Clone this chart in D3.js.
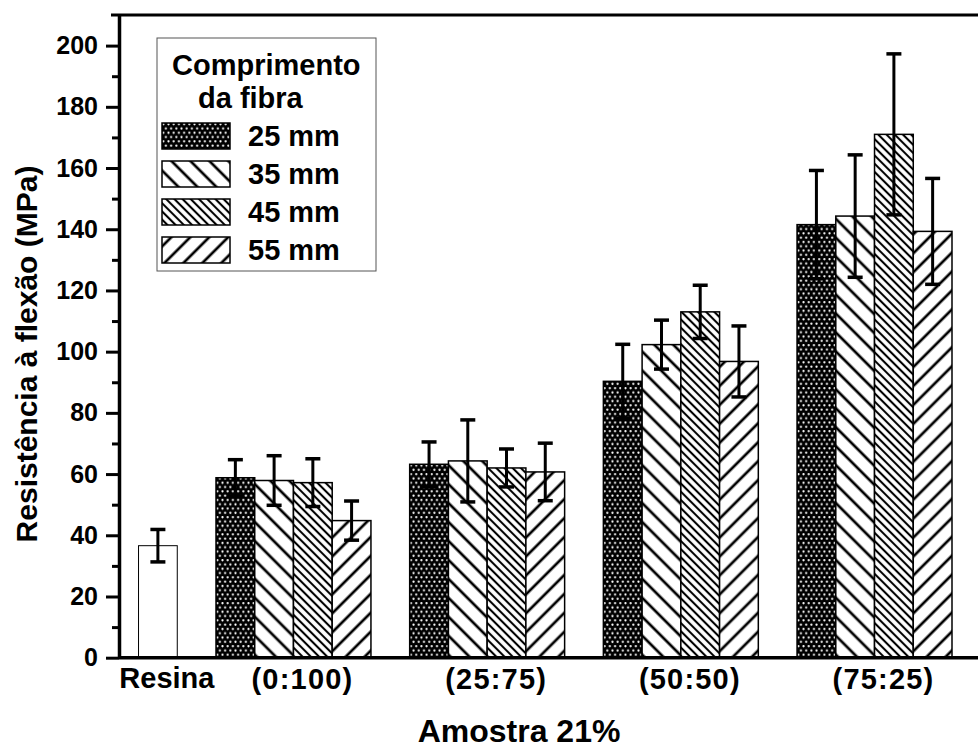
<html>
    <head>
        <title>Resistencia a flexao</title>
        <style>
            body { margin: 0; background: #fff; }
            svg { display: block; }
            .chart text {
                font-family: "Liberation Sans", Arial, sans-serif;
                font-weight: bold;
                fill: #000;
            }
            .chart .axis path, .chart .axis line {
                stroke: #000;
            }
        </style>
    </head>
    <body>
        <svg class="chart" width="978" height="754"></svg>
        <script src="https://cdnjs.cloudflare.com/ajax/libs/d3/7.8.5/d3.min.js"></script>
        <script>

            // values (MPa)
            var groups = ["(0:100)", "(25:75)", "(50:50)", "(75:25)"];
            var series = ["25 mm", "35 mm", "45 mm", "55 mm"];
            var resinaLabel = "Resina";
            var resinaValue = 36.6;
            var resinaErr = 5.3;
            var values25 = [58.8, 63.2, 90.3, 141.5];
            var values35 = [57.9, 64.3, 102.3, 144.3];
            var values45 = [57.2, 62.0, 113.0, 171.0];
            var values55 = [44.8, 60.7, 96.8, 139.3];
            var err25 = [5.9, 7.3, 12.1, 17.7];
            var err35 = [8.1, 13.4, 8.0, 20.0];
            var err45 = [7.8, 6.2, 8.7, 26.3];
            var err55 = [6.4, 9.4, 11.6, 17.3];
            var yTicks = [0, 20, 40, 60, 80, 100, 120, 140, 160, 180, 200];
            var yMinorTicks = [10, 30, 50, 70, 90, 110, 130, 150, 170, 190];

            var legendTitle = ["Comprimento", "da fibra"];
            var yTitle = "Resistência à flexão (MPa)";
            var xTitle = "Amostra 21%";

            var allValues = [values25, values35, values45, values55];
            var allErrs = [err25, err35, err45, err55];
            var patternIds = ["p25", "p35", "p45", "p55"];

            var width = 978, height = 754;
            var axisX = 119;

            var svg = d3.select('.chart');

            // patterns
            var defs = svg.append('defs');

            var dots = defs.append('pattern')
                .attr('id', 'p25')
                .attr('patternUnits', 'userSpaceOnUse')
                .attr('width', 5.2)
                .attr('height', 8.6);
            dots.append('rect').attr('width', 5.2).attr('height', 8.6).attr('fill', '#000');
            dots.append('circle').attr('cx', 1.3).attr('cy', 1.2).attr('r', 1.1).attr('fill', '#fff');
            dots.append('circle').attr('cx', 3.9).attr('cy', 5.5).attr('r', 1.1).attr('fill', '#fff');

            function hatch(id, spacing, angle, sw) {
                var p = defs.append('pattern')
                    .attr('id', id)
                    .attr('patternUnits', 'userSpaceOnUse')
                    .attr('width', spacing)
                    .attr('height', spacing)
                    .attr('patternTransform', 'rotate(' + angle + ')');
                p.append('rect').attr('width', spacing).attr('height', spacing).attr('fill', '#fff');
                p.append('line')
                    .attr('x1', spacing / 2).attr('y1', 0)
                    .attr('x2', spacing / 2).attr('y2', spacing)
                    .attr('stroke', '#000')
                    .attr('stroke-width', sw);
            }
            hatch('p35', 13.4, -45, 2.7);
            hatch('p45', 5.8, -45, 2.1);
            hatch('p55', 13.4, 45, 2.7);

            // scales
            var yScale = d3.scaleLinear()
                .domain([0, 210])
                .range([657.7, 15]);

            var xScale = d3.scaleBand()
                .domain(groups)
                .range([216, 952])
                .paddingInner(0.2)
                .paddingOuter(0);

            var xSub = d3.scaleBand()
                .domain(series)
                .range([0, xScale.bandwidth()]);

            var resinaX = xScale(groups[0]) - 0.4 * xScale.step();

            // top frame line
            svg.append('line')
                .attr('x1', 111).attr('x2', width)
                .attr('y1', 15).attr('y2', 15)
                .attr('stroke', '#000').attr('stroke-width', 3.2);

            // bars
            svg.append('rect')
                .attr('x', resinaX)
                .attr('y', yScale(resinaValue))
                .attr('width', xSub.bandwidth())
                .attr('height', yScale(0) - yScale(resinaValue))
                .attr('fill', '#fff')
                .attr('stroke', '#000')
                .attr('stroke-width', 1);

            var groupG = svg.selectAll('.group')
                .data(groups)
                .enter()
                .append('g')
                .attr('class', 'group')
                .attr('transform', function(d) { return 'translate(' + xScale(d) + ',0)'; });

            var bars = groupG.selectAll('.bar')
                .data(function(d, gi) {
                    return series.map(function(s, si) {
                        return { series: s, si: si, value: allValues[si][gi], err: allErrs[si][gi] };
                    });
                })
                .enter();

            bars.append('rect')
                .attr('x', function(d) { return xSub(d.series); })
                .attr('y', function(d) { return yScale(d.value); })
                .attr('width', xSub.bandwidth())
                .attr('height', function(d) { return yScale(0) - yScale(d.value); })
                .attr('fill', function(d) { return 'url(#' + patternIds[d.si] + ')'; })
                .attr('stroke', '#000')
                .attr('stroke-width', 1.5);

            // error bars
            var errData = [{ cx: resinaX + xSub.bandwidth() / 2, value: resinaValue, err: resinaErr }];
            groups.forEach(function(g, gi) {
                series.forEach(function(s, si) {
                    errData.push({
                        cx: xScale(g) + xSub(s) + xSub.bandwidth() / 2,
                        value: allValues[si][gi],
                        err: allErrs[si][gi]
                    });
                });
            });

            var errG = svg.selectAll('.err')
                .data(errData)
                .enter()
                .append('g')
                .attr('class', 'err')
                .attr('stroke', '#000');

            errG.append('line')
                .attr('x1', function(d) { return d.cx; })
                .attr('x2', function(d) { return d.cx; })
                .attr('y1', function(d) { return yScale(d.value + d.err); })
                .attr('y2', function(d) { return yScale(d.value - d.err); })
                .attr('stroke-width', 3);

            [1, -1].forEach(function(sign) {
                errG.append('line')
                    .attr('x1', function(d) { return d.cx - 7.5; })
                    .attr('x2', function(d) { return d.cx + 7.5; })
                    .attr('y1', function(d) { return yScale(d.value + sign * d.err); })
                    .attr('y2', function(d) { return yScale(d.value + sign * d.err); })
                    .attr('stroke-width', 3.5);
            });

            // bottom axis line
            svg.append('line')
                .attr('x1', axisX).attr('x2', width)
                .attr('y1', yScale(0)).attr('y2', yScale(0))
                .attr('stroke', '#000').attr('stroke-width', 3.4);

            // y axis
            var yAxis = d3.axisLeft(yScale)
                .tickValues(yTicks)
                .tickSize(13)
                .tickSizeOuter(0)
                .tickPadding(8);

            var yAxisG = svg.append('g')
                .attr('class', 'axis')
                .attr('transform', 'translate(' + axisX + ',0)')
                .call(yAxis);

            yAxisG.select('.domain').attr('stroke-width', 3.5);
            yAxisG.selectAll('.tick line').attr('stroke-width', 3);
            yAxisG.selectAll('.tick text')
                .style('font-size', '25px');

            var yMinor = d3.axisLeft(yScale)
                .tickValues(yMinorTicks)
                .tickSize(7)
                .tickFormat('');

            var yMinorG = svg.append('g')
                .attr('class', 'axis')
                .attr('transform', 'translate(' + axisX + ',0)')
                .call(yMinor);
            yMinorG.select('.domain').remove();
            yMinorG.selectAll('.tick line').attr('stroke-width', 3);

            // category labels
            svg.append('text')
                .attr('x', resinaX + xSub.bandwidth() / 2 + 9)
                .attr('y', 688)
                .attr('text-anchor', 'middle')
                .style('font-size', '29px')
                .text(resinaLabel);

            svg.selectAll('.catLabel')
                .data(groups)
                .enter()
                .append('text')
                .attr('class', 'catLabel')
                .attr('x', function(d) { return xScale(d) + xScale.bandwidth() / 2 + 9; })
                .attr('y', 689)
                .attr('text-anchor', 'middle')
                .style('font-size', '29px')
                .style('letter-spacing', '1.2px')
                .text(function(d) { return d; });

            // axis titles
            svg.append('text')
                .attr('x', 519)
                .attr('y', 742)
                .attr('text-anchor', 'middle')
                .style('font-size', '32px')
                .text(xTitle);

            svg.append('text')
                .attr('transform', 'translate(37,354) rotate(-90)')
                .attr('text-anchor', 'middle')
                .style('font-size', '30px')
                .text(yTitle);

            // legend
            var legend = svg.append('g');
            legend.append('rect')
                .attr('x', 157).attr('y', 38)
                .attr('width', 219).attr('height', 233)
                .attr('fill', '#fff')
                .attr('stroke', '#555')
                .attr('stroke-width', 1);

            legend.append('text')
                .attr('x', 172).attr('y', 75)
                .style('font-size', '29px')
                .text(legendTitle[0]);
            legend.append('text')
                .attr('x', 198).attr('y', 108)
                .style('font-size', '29px')
                .text(legendTitle[1]);

            var items = legend.selectAll('.item')
                .data(series)
                .enter()
                .append('g')
                .attr('transform', function(d, i) { return 'translate(162,' + (123 + i * 38) + ')'; });

            items.append('rect')
                .attr('width', 68)
                .attr('height', 26)
                .attr('fill', function(d, i) { return 'url(#' + patternIds[i] + ')'; })
                .attr('stroke', '#000')
                .attr('stroke-width', 1.5);

            items.append('text')
                .attr('x', 86)
                .attr('y', 23)
                .style('font-size', '29px')
                .text(function(d) { return d; });

        </script>
    </body>
</html>
